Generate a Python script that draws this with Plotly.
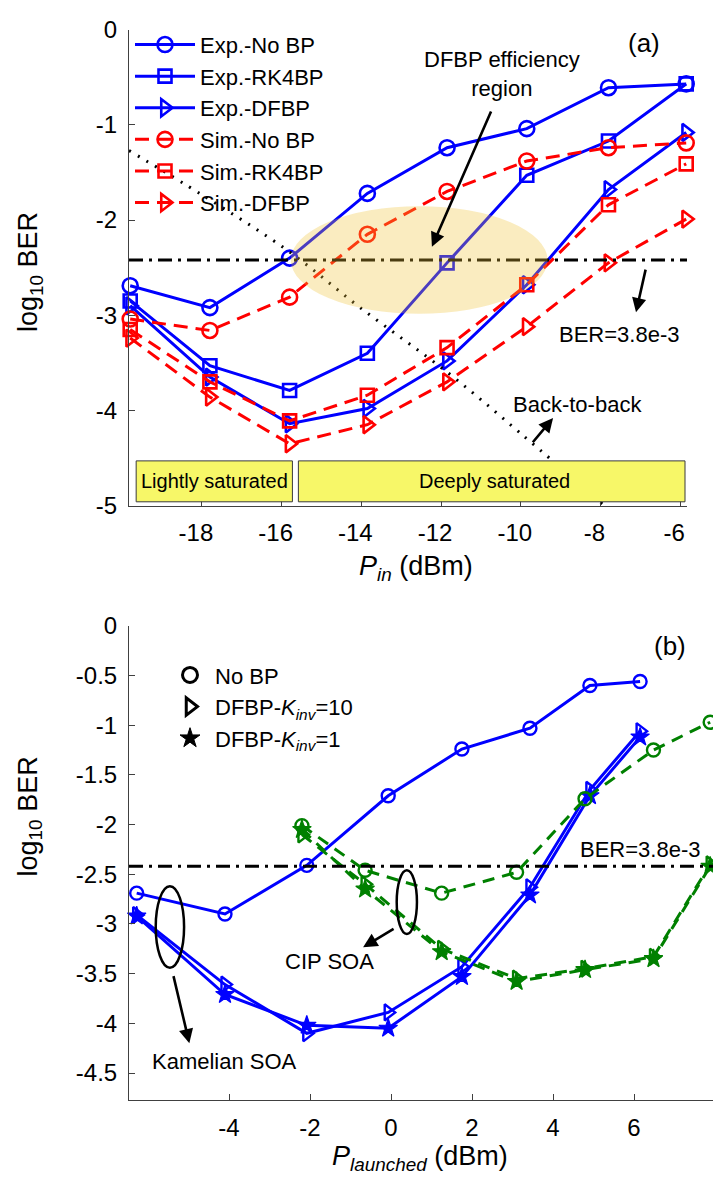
import math
import plotly.graph_objects as go

FONT = "Liberation Sans, Arial, sans-serif"
W, H = 713, 1193

# ---------------- (a) log10 BER versus input power ----------------
pin_dbm = [-19.8, -17.8, -15.8, -13.85, -11.85, -9.85, -7.8, -5.85]
exp_no_bp = [-2.69, -2.92, -2.40, -1.72, -1.24, -1.04, -0.61, -0.57]
exp_rk4bp = [-2.85, -3.53, -3.79, -3.40, -2.45, -1.53, -1.17, -0.57]
exp_dfbp = [-2.90, -3.65, -4.14, -3.98, -3.48, -2.68, -1.68, -1.08]
sim_no_bp = [-3.04, -3.16, -2.81, -2.15, -1.70, -1.38, -1.24, -1.19]
sim_rk4bp = [-3.15, -3.70, -4.11, -3.84, -3.34, -2.68, -1.84, -1.41]
sim_dfbp = [-3.24, -3.86, -4.35, -4.15, -3.70, -3.12, -2.45, -1.99]

# back-to-back reference curve
b2b_pin = [-19.83, -17.98, -15.85, -14.03, -11.78, -9.98, -7.85]
b2b_ber = [-1.27, -1.74, -2.32, -2.92, -3.62, -4.25, -5.02]

top_xticks = [-18, -16, -14, -12, -10, -8, -6]
top_xticktext = ["-18", "-16", "-14", "-12", "-10", "-8", "-6"]
top_yticks = [0, -1, -2, -3, -4, -5]
top_yticktext = ["0", "-1", "-2", "-3", "-4", "-5"]

# ---------------- (b) log10 BER versus launched power ----------------
kam_plaunch = [-6.28, -4.10, -2.08, -0.07, 1.75, 3.43, 4.91, 6.15]
kam_no_bp = [-2.69, -2.90, -2.41, -1.71, -1.24, -1.03, -0.60, -0.56]
kam_dfbp_k10 = [-2.91, -3.61, -4.10, -3.89, -3.43, -2.63, -1.65, -1.06]
kam_dfbp_k1 = [-2.92, -3.71, -4.02, -4.05, -3.53, -2.71, -1.71, -1.12]

cip_plaunch = [-2.2, -0.64, 1.25, 3.1, 4.79, 6.48, 7.88]
cip_no_bp = [-2.01, -2.46, -2.69, -2.48, -1.74, -1.25, -0.97]
cip_dfbp_k10 = [-2.10, -2.60, -3.25, -3.55, -3.45, -3.33, -2.40]
cip_dfbp_k1 = [-2.05, -2.65, -3.28, -3.58, -3.46, -3.35, -2.42]

bot_xticks = [-4, -2, 0, 2, 4, 6]
bot_xticktext = ["-4", "-2", "0", "2", "4", "6"]
bot_yticks = [0, -0.5, -1, -1.5, -2, -2.5, -3, -3.5, -4, -4.5]
bot_yticktext = ["0", "-0.5", "-1", "-1.5", "-2", "-2.5", "-3", "-3.5", "-4", "-4.5"]

ber_limit = math.log10(3.8e-3)

BLUE = "rgb(0,0,255)"
RED = "rgb(255,0,0)"
GREEN = "rgb(0,128,0)"
RED_DASH = "14px,8px"
GREEN_DASH = "12px,8px"
DASHDOT = "14px,6px,3px,6px"

fig = go.Figure()


def add(x, y, color, symbol, dash, name=None, xa="x", ya="y", size=14,
        lw=3, mlw=2.6, legend=None):
    fig.add_trace(go.Scatter(
        x=x, y=y, mode="lines+markers", name=name,
        xaxis=xa, yaxis=ya, cliponaxis=False,
        showlegend=name is not None, legend=legend,
        legendgroup=name,
        line=dict(color=color, width=lw, dash=dash),
        marker=dict(symbol=symbol, size=size, color=color,
                    line=dict(color=color, width=mlw)),
    ))


# panel (a)
add(pin_dbm, exp_no_bp, BLUE, "circle-open", "solid", "Exp.-No BP", legend="legend", size=15)
add(pin_dbm, exp_rk4bp, BLUE, "square-open", "solid", "Exp.-RK4BP", legend="legend", size=13)
add(pin_dbm, exp_dfbp, BLUE, "triangle-right-open", "solid", "Exp.-DFBP", legend="legend", size=15)
add(pin_dbm, sim_no_bp, RED, "circle-open", RED_DASH, "Sim.-No BP", legend="legend", size=15)
add(pin_dbm, sim_rk4bp, RED, "square-open", RED_DASH, "Sim.-RK4BP", legend="legend", size=13)
add(pin_dbm, sim_dfbp, RED, "triangle-right-open", RED_DASH, "Sim.-DFBP", legend="legend", size=15)

fig.add_trace(go.Scatter(
    x=b2b_pin, y=b2b_ber, mode="lines", showlegend=False,
    xaxis="x", yaxis="y",
    line=dict(color="black", width=3, dash="2px,8px", shape="spline"),
))

# panel (b)
add(kam_plaunch, kam_no_bp, BLUE, "circle-open", "solid", xa="x2", ya="y2", size=13, mlw=2.4)
add(kam_plaunch, kam_dfbp_k10, BLUE, "triangle-right-open", "solid", xa="x2", ya="y2", size=14, mlw=2.4)
add(kam_plaunch, kam_dfbp_k1, BLUE, "star", "solid", xa="x2", ya="y2", size=14, mlw=1.2)
add(cip_plaunch, cip_no_bp, GREEN, "circle-open", GREEN_DASH, xa="x2", ya="y2", size=13, mlw=2.4)
add(cip_plaunch, cip_dfbp_k10, GREEN, "triangle-right-open", GREEN_DASH, xa="x2", ya="y2", size=14, mlw=2.4)
add(cip_plaunch, cip_dfbp_k1, GREEN, "star", GREEN_DASH, xa="x2", ya="y2", size=14, mlw=1.2)

# marker-only key for panel (b)
for nm, sym, mlw in [("No BP", "circle-open", 3),
                     ("DFBP-<i>K</i><sub><i>inv</i></sub>=10", "triangle-right-open", 3),
                     ("DFBP-<i>K</i><sub><i>inv</i></sub>=1", "star", 1)]:
    fig.add_trace(go.Scatter(
        x=[None], y=[None], mode="markers", name=nm, xaxis="x2", yaxis="y2",
        legend="legend2", legendgroup=nm,
        marker=dict(symbol=sym, size=15, color="black",
                    line=dict(color="black", width=mlw)),
    ))


def px_x(p):
    return p / W


def px_y(p):
    return 1 - p / H


axis_common = dict(
    showline=True, linecolor="#404040", linewidth=1, mirror=False,
    ticks="inside", ticklen=6, tickcolor="#404040", showgrid=False,
    zeroline=False, tickfont=dict(family=FONT, size=24, color="black"),
    tickmode="array", ticklabelstandoff=6,
)

fig.update_layout(
    width=W, height=H, margin=dict(l=0, r=0, t=0, b=0),
    paper_bgcolor="white", plot_bgcolor="white",
    font=dict(family=FONT, color="black"),
    xaxis=dict(axis_common, domain=[px_x(129), px_x(687)], range=[-19.83, -5.83],
               anchor="y", tickvals=top_xticks, ticktext=top_xticktext,
               ticklabelshift=-6),
    yaxis=dict(axis_common, domain=[px_y(503), px_y(16)], range=[-5, 0],
               anchor="x", tickvals=top_yticks, ticktext=top_yticktext),
    xaxis2=dict(axis_common, domain=[px_x(129), 1.0], range=[-6.47, 7.95],
                anchor="y2", tickvals=bot_xticks, ticktext=bot_xticktext),
    yaxis2=dict(axis_common, domain=[px_y(1111), px_y(626)], range=[-4.77, 0],
                anchor="x2", tickvals=bot_yticks, ticktext=bot_yticktext),
    legend=dict(x=px_x(130), y=px_y(10), xanchor="left", yanchor="top",
                bgcolor="rgba(0,0,0,0)", borderwidth=0, tracegroupgap=0,
                itemwidth=60, font=dict(family=FONT, size=22, color="black")),
    legend2=dict(x=px_x(165), y=px_y(655), xanchor="left", yanchor="top",
                 bgcolor="rgba(0,0,0,0)", borderwidth=0, tracegroupgap=0,
                 itemwidth=40, font=dict(family=FONT, size=22, color="black")),
)

shapes = [
    # BER threshold lines
    dict(type="line", xref="x domain", yref="y", x0=0, x1=1, y0=ber_limit, y1=ber_limit,
         line=dict(color="black", width=3, dash=DASHDOT), layer="above"),
    dict(type="line", xref="x2 domain", yref="y2", x0=0, x1=1, y0=ber_limit, y1=ber_limit,
         line=dict(color="black", width=3, dash=DASHDOT), layer="above"),
    # highlighted efficiency region
    dict(type="circle", xref="x", yref="y", x0=-15.77, x1=-9.33, y0=-2.985, y1=-1.855,
         fillcolor="rgb(240,195,52)", opacity=0.31, line=dict(width=0), layer="above"),
    # saturation regime boxes
    dict(type="rect", xref="x", yref="y", x0=-19.65, x1=-15.73, y0=-4.96, y1=-4.53,
         fillcolor="rgb(247,247,104)", line=dict(color="#3a3a3a", width=1), layer="above"),
    dict(type="rect", xref="x", yref="y", x0=-15.58, x1=-5.88, y0=-4.96, y1=-4.53,
         fillcolor="rgb(247,247,104)", line=dict(color="#3a3a3a", width=1), layer="above"),
    # grouping ellipses in panel (b)
    dict(type="circle", xref="x2", yref="y2", x0=-5.81, x1=-5.11, y0=-3.44, y1=-2.62,
         line=dict(color="black", width=2.5), layer="above"),
    dict(type="circle", xref="x2", yref="y2", x0=0.14, x1=0.64, y0=-3.10, y1=-2.46,
         line=dict(color="black", width=2.5), layer="above"),
]
fig.update_layout(shapes=shapes)


def text(x, y, s, size=22, xref="x", yref="y", angle=0):
    return dict(x=x, y=y, xref=xref, yref=yref, text=s, showarrow=False,
                xanchor="center", yanchor="middle", textangle=angle,
                font=dict(family=FONT, size=size, color="black"))


def arrow(xh, yh, xt, yt, xr="x", yr="y"):
    return dict(x=xh, y=yh, ax=xt, ay=yt, xref=xr, yref=yr, axref=xr, ayref=yr,
                text="", showarrow=True, arrowhead=2, arrowsize=1.1,
                arrowwidth=2.6, arrowcolor="black")


annotations = [
    text(-6.9, -0.144, "(a)", size=26),
    text(-10.475, -0.462, "DFBP efficiency<br>region", size=22),
    arrow(-12.23, -2.28, -10.73, -0.845),
    text(-7.525, -3.20, "BER=3.8e-3", size=22),
    arrow(-7.11, -2.97, -6.86, -2.505),
    text(-8.575, -3.94, "Back-to-back", size=22),
    arrow(-9.19, -4.08, -9.73, -4.35),
    text(-17.69, -4.745, "Lightly saturated", size=20),
    text(-10.65, -4.745, "Deeply saturated", size=20),

    text(6.89, -0.206, "(b)", size=26, xref="x2", yref="y2"),
    text(6.15, -2.25, "BER=3.8e-3", size=22, xref="x2", yref="y2"),
    text(-1.51, -3.38, "CIP SOA", size=22, xref="x2", yref="y2"),
    arrow(-0.69, -3.235, 0.10, -3.04, "x2", "y2"),
    text(-4.1, -4.38, "Kamelian SOA", size=22, xref="x2", yref="y2"),
    arrow(-4.98, -4.2, -5.38, -3.51, "x2", "y2"),

    # axis titles
    text(px_x(30), px_y(264), "log<sub>10</sub> BER", size=27, xref="paper", yref="paper", angle=-90),
    text(px_x(416), px_y(567), "<i>P</i><sub><i>in</i></sub> (dBm)", size=27,
         xref="paper", yref="paper"),
    text(px_x(30), px_y(821), "log<sub>10</sub> BER", size=27, xref="paper", yref="paper", angle=-90),
    text(px_x(420), px_y(1170), "<i>P</i><sub><i>launched</i></sub> (dBm)", size=27,
         xref="paper", yref="paper"),
]
fig.update_layout(annotations=annotations)

fig.write_html("out.html")
